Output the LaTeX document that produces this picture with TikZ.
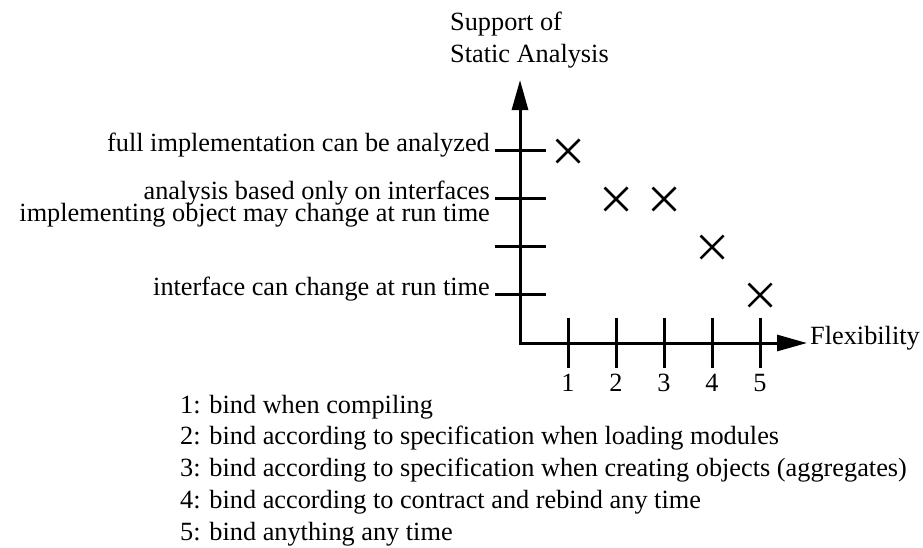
\documentclass[tikz,border=0pt]{standalone}
\usepackage{fontspec}
\setmainfont{Liberation Serif}
\usetikzlibrary{arrows.meta}
\tikzset{
  axisline/.style={line width=3pt, {Triangle[length=30pt,width=16pt]}-{Triangle[length=30pt,width=16pt]}},
  ticmark/.style={line width=3pt},
  crossmark/.style={line width=2.5pt},
  lbl/.style={inner sep=0pt, font=\fontsize{26.3}{32}\selectfont}
}

\begin{document}
\begin{tikzpicture}[x=1pt,y=-1pt]
  \useasboundingbox (0,0) rectangle (923,547);
  % axes
  \coordinate (origin) at (520,343);
  \coordinate (ytip) at (520,80);
  \coordinate (xtip) at (807,343);
  \draw[axisline] (ytip) -- (origin) -- (xtip);
  \node[lbl, anchor=base west] (ytitleA) at (450,30) {Support of};
  \node[lbl, anchor=base west] (ytitleB) at (450,62) {Static Analysis};
  \node[lbl, anchor=base west] (xtitle) at (810,344) {Flexibility};
  % levels on the vertical axis
  \foreach \y in {150,198,246,294}
    \draw[ticmark] (495,\y) -- (546,\y);
  \node[lbl, anchor=base east] (levfull) at (490,151) {full implementation can be analyzed};
  \node[lbl, anchor=base east] (levintf) at (490,199) {analysis based only on interfaces};
  \node[lbl, anchor=base east] (levimpl) at (490,221) {implementing object may change at run time};
  \node[lbl, anchor=base east] (levrun) at (490,295) {interface can change at run time};
  % binding times on the horizontal axis
  \foreach \x/\n in {568/1,616/2,664/3,712/4,760/5} {
    \draw[ticmark] (\x,318) -- (\x,368);
    \node[lbl, anchor=base] (num\n) at (\x,391) {\n};
  }
  % crosses
  \foreach \x/\y in {568/151,616/199,664/199,712/247,760/295}
    \draw[crossmark] (\x-11.5,\y-11.5) -- (\x+11.5,\y+11.5)
                     (\x-11.5,\y+11.5) -- (\x+11.5,\y-11.5);
  % legend
  \foreach \txt [count=\i] in {bind when compiling,
      bind according to specification when loading modules,
      bind according to specification when creating objects (aggregates),
      bind according to contract and rebind any time,
      bind anything any time}
    \node[lbl, anchor=base west] (key\i) at (180,381.5+31.7*\i) {\i: \txt};
\end{tikzpicture}
\end{document}
